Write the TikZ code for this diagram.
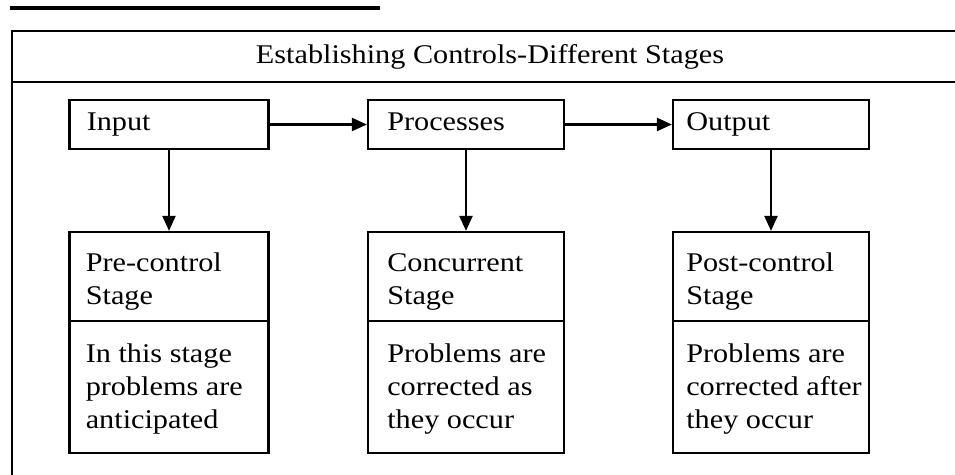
\documentclass[tikz,border=0pt]{standalone}
\usepackage{fontspec}
\setmainfont[FakeStretch=1.12]{Liberation Serif}
\usetikzlibrary{arrows.meta}
\begin{document}
\begin{tikzpicture}[x=0.5pt, y=-0.5pt,
  font=\fontsize{13.5}{16.5}\selectfont,
  frame/.style={line width=1.1pt},
  box/.style={draw, line width=1.1pt, rectangle, inner sep=0pt},
  boxtext/.style={inner sep=0pt, align=left, anchor=west},
  linetext/.style={inner sep=0pt, anchor=base west},
  flow/.style={line width=1.1pt, -{Triangle[length=7.5pt, width=6.5pt]}}
]
\useasboundingbox (0,0) rectangle (955,475);

% heavy rule above the panel
\draw[line width=2pt] (10,8) -- (380,8);

% panel frame with its title strip
\draw[frame] (955,31) -- (12,31) -- (12,475);
\draw[frame] (12,82) -- (955,82);
\node (title) at (490,57) {Establishing Controls-Different Stages};

% process chain
\node[box, minimum width=99.5pt, minimum height=24.5pt] (input) at (169,124.5) {};
\node[box, minimum width=98pt,   minimum height=24.5pt] (proc)  at (466,124.5) {};
\node[box, minimum width=98pt,   minimum height=24.5pt] (out)   at (771,124.5) {};
\node[linetext] (inputtxt) at ([xshift=9pt,  yshift=-3.25pt]input.west) {Input};
\node[linetext] (proctxt)  at ([xshift=10pt, yshift=-3.25pt]proc.west)  {Processes};
\node[linetext] (outtxt)   at ([xshift=7pt,  yshift=-3.25pt]out.west)   {Output};

% stage boxes: heading part and description part
\node[box, minimum width=99.5pt, minimum height=44.5pt] (pre)  at (169,276.5) {};
\node[box, minimum width=98pt,   minimum height=44.5pt] (conc) at (466,276.5) {};
\node[box, minimum width=98pt,   minimum height=44.5pt] (post) at (771,276.5) {};
\node[box, minimum width=99.5pt, minimum height=66pt] (predesc)  at (169,387) {};
\node[box, minimum width=98pt,   minimum height=66pt] (concdesc) at (466,387) {};
\node[box, minimum width=98pt,   minimum height=66pt] (postdesc) at (771,387) {};

\node[boxtext] (pretxt)  at ([xshift=8.5pt, yshift=-2.5pt]pre.west)  {Pre-control\\Stage};
\node[boxtext] (conctxt) at ([xshift=10pt,  yshift=-2.5pt]conc.west) {Concurrent\\Stage};
\node[boxtext] (posttxt) at ([xshift=7pt,   yshift=-2.5pt]post.west) {Post-control\\Stage};
\node[boxtext] (predesctxt)  at ([xshift=8.5pt, yshift=-1pt]predesc.west)  {In this stage\\problems are\\anticipated};
\node[boxtext] (concdesctxt) at ([xshift=10pt,  yshift=-1pt]concdesc.west) {Problems are\\corrected as\\they occur};
\node[boxtext] (postdesctxt) at ([xshift=7pt,   yshift=-1pt]postdesc.west) {Problems are\\corrected after\\they occur};

% connectors
\draw[flow] (input) -- (proc);
\draw[flow] (proc) -- (out);
\draw[flow] (input.south) -- (pre.north);
\draw[flow] (proc.south) -- (conc.north);
\draw[flow] (out.south) -- (post.north);
\end{tikzpicture}
\end{document}
